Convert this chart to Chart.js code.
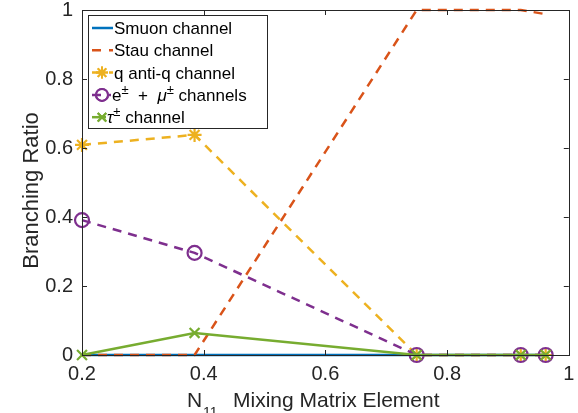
<!DOCTYPE html>
<html>
<head>
<meta charset="utf-8">
<script src="https://cdn.jsdelivr.net/npm/chart.js@4.4.1/dist/chart.umd.min.js"></script>
<style>
  html, body { margin: 0; padding: 0; background: #fff; }
  #wrap { width: 578px; height: 413px; }
</style>
</head>
<body>
<div id="wrap"><canvas id="c" width="578" height="413"></canvas></div>
<script>
// N11 values
var mixing = [0.2, 0.385, 0.75, 0.921, 0.962];
var smuon = [0, 0, 0, 0, 0];
var stau = [0, 0, 1, 1, 0.988];
var qq = [0.609, 0.638, 0, 0, 0];
var emu = [0.391, 0.296, 0, 0, 0];
var tau = [0, 0.064, 0, 0, 0];
var xTicks = [0.2, 0.4, 0.6, 0.8, 1];
var yTicks = [0, 0.2, 0.4, 0.6, 0.8, 1];

var FONT = '"Liberation Sans", Arial, sans-serif';
var AXIS = '#262626';

function pts(ys) {
    return mixing.map(function (x, i) { return { x: x, y: ys[i] }; });
}

var series = [
    { label: 'Smuon', data: smuon, color: '#0072BD', dash: [], marker: false, order: 4 },
    { label: 'Stau', data: stau, color: '#D95319', dash: [9, 7], marker: false, order: 3 },
    { label: 'qq', data: qq, color: '#EDB120', dash: [9, 7], marker: 'star', order: 2 },
    { label: 'emu', data: emu, color: '#7E2F8E', dash: [9, 7], marker: 'circle', order: 1 },
    { label: 'tau', data: tau, color: '#77AC30', dash: [], marker: 'crossRot', order: 0 }
];

// legend rows: text pieces, sup = superscript, it = italic
var legendRows = [
    [{ t: 'Smuon channel' }],
    [{ t: 'Stau channel' }],
    [{ t: 'q anti-q channel' }],
    [{ t: 'e' }, { t: '\u00b1', sup: true }, { t: '  +  ' }, { t: '\u03bc', it: true }, { t: '\u00b1', sup: true }, { t: ' channels' }],
    [{ t: '\u03c4', it: true }, { t: '\u00b1', sup: true }, { t: ' channel' }]
];
var legendTextX = [114, 114, 114, 112, 107];

var matlabFrame = {
    id: 'matlabFrame',
    afterDatasetsDraw: function (chart) {
        var ctx = chart.ctx, a = chart.chartArea;
        var xs = chart.scales.x, ys = chart.scales.y;
        ctx.save();
        ctx.strokeStyle = AXIS;
        ctx.lineWidth = 1;
        ctx.setLineDash([]);
        ctx.beginPath();
        xTicks.forEach(function (v) {
            var px = Math.round(xs.getPixelForValue(v)) + 0.5;
            ctx.moveTo(px, a.bottom); ctx.lineTo(px, a.bottom - 5);
            ctx.moveTo(px, a.top); ctx.lineTo(px, a.top + 5);
        });
        yTicks.forEach(function (v) {
            var py = Math.round(ys.getPixelForValue(v)) + 0.5;
            ctx.moveTo(a.left, py); ctx.lineTo(a.left + 5, py);
            ctx.moveTo(a.right, py); ctx.lineTo(a.right - 5, py);
        });
        ctx.stroke();
        ctx.strokeRect(Math.round(a.left) + 0.5, Math.round(a.top) + 0.5,
            Math.round(a.right - a.left), Math.round(a.bottom - a.top));

        // axis titles
        ctx.fillStyle = AXIS;
        ctx.textBaseline = 'alphabetic';
        ctx.font = '21px ' + FONT;
        ctx.fillText('N', 187, 407);
        ctx.fillText('Mixing Matrix Element', 233, 407);
        ctx.font = '14px ' + FONT;
        ctx.fillText('11', 203, 417);

        ctx.save();
        ctx.translate(38, (a.top + a.bottom) / 2 + 8);
        ctx.rotate(-Math.PI / 2);
        ctx.textAlign = 'center';
        ctx.font = '22px ' + FONT;
        ctx.fillText('Branching Ratio', 0, 0);
        ctx.restore();

        // legend box
        var bx = 88.5, by = 15.5, bw = 179, bh = 113;
        ctx.fillStyle = '#fff';
        ctx.fillRect(bx, by, bw, bh);
        ctx.strokeStyle = AXIS;
        ctx.strokeRect(bx, by, bw, bh);
        series.forEach(function (s, i) {
            var yy = 28 + i * 22.3;
            ctx.save();
            ctx.strokeStyle = s.color;
            ctx.fillStyle = 'rgba(0,0,0,0)';
            ctx.lineWidth = 2.5;
            ctx.setLineDash(s.dash.length ? [9, 8] : []);
            ctx.beginPath();
            ctx.moveTo(92, yy); ctx.lineTo(legendTextX[i] - 1, yy);
            ctx.stroke();
            ctx.setLineDash([]);
            ctx.lineWidth = 2;
            if (s.marker) {
                Chart.helpers.drawPoint(ctx, {
                    pointStyle: s.marker, radius: 6, rotation: 0, borderWidth: 2
                }, 102, yy);
                ctx.stroke();
            }
            ctx.restore();
            var tx = legendTextX[i];
            ctx.fillStyle = '#000';
            legendRows[i].forEach(function (p) {
                ctx.font = (p.it ? 'italic ' : '') + (p.sup ? '13px ' : '17px ') + FONT;
                ctx.fillText(p.t, tx, yy + (p.sup ? -1 : 6));
                tx += ctx.measureText(p.t).width;
            });
        });
        ctx.restore();
    }
};

new Chart(document.getElementById('c'), {
    type: 'scatter',
    data: {
        datasets: series.map(function (s) {
            return {
                label: s.label,
                data: pts(s.data),
                showLine: true,
                borderColor: s.color,
                backgroundColor: s.color,
                borderWidth: 2.5,
                borderDash: s.dash,
                pointStyle: s.marker || 'circle',
                pointRadius: s.marker ? 7 : 0,
                pointBorderWidth: 2.2,
                pointBorderColor: s.color,
                pointBackgroundColor: 'rgba(0,0,0,0)',
                order: s.order,
                clip: false
            };
        })
    },
    options: {
        responsive: false,
        animation: false,
        devicePixelRatio: 1,
        layout: { padding: { top: 10, right: 7, left: 0, bottom: 0 } },
        plugins: { legend: { display: false }, tooltip: { enabled: false } },
        scales: {
            x: {
                type: 'linear', min: 0.2, max: 1,
                afterBuildTicks: function (sc) { sc.ticks = xTicks.map(function (v) { return { value: v }; }); },
                grid: { display: false, drawTicks: false },
                border: { display: false },
                ticks: { color: AXIS, font: { family: FONT, size: 20 }, padding: 7, maxRotation: 0,
                    callback: function (v) { return String(v); } },
                afterFit: function (sc) { sc.height = 58; sc.paddingLeft = 0; sc.paddingRight = 0; }
            },
            y: {
                type: 'linear', min: 0, max: 1,
                afterBuildTicks: function (sc) { sc.ticks = yTicks.map(function (v) { return { value: v }; }); },
                grid: { display: false, drawTicks: false },
                border: { display: false },
                ticks: { color: AXIS, font: { family: FONT, size: 20 }, padding: 9,
                    callback: function (v) { return String(v); } },
                afterFit: function (sc) { sc.width = 82; sc.paddingTop = 0; sc.paddingBottom = 0; }
            }
        }
    },
    plugins: [matlabFrame]
});
</script>
</body>
</html>
